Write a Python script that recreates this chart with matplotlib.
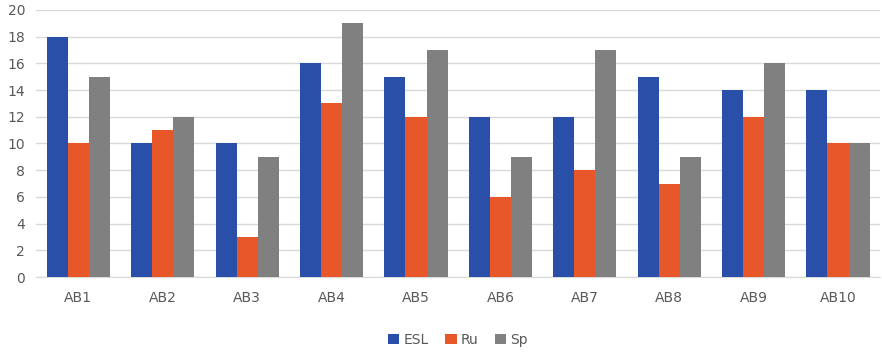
import matplotlib
matplotlib.use("Agg")
import matplotlib.pyplot as plt
import numpy as np

categories = ["AB1", "AB2", "AB3", "AB4", "AB5", "AB6", "AB7", "AB8", "AB9", "AB10"]
esl = [18, 10, 10, 16, 15, 12, 12, 15, 14, 14]
ru = [10, 11, 3, 13, 12, 6, 8, 7, 12, 10]
sp = [15, 12, 9, 19, 17, 9, 17, 9, 16, 10]
series_names = ["ESL", "Ru", "Sp"]
colors = ["#2A4FA8", "#E8572A", "#808080"]

fig = plt.figure(figsize=(8.82, 3.52), dpi=100)
ax = fig.add_axes([0.041, 0.213, 0.957, 0.759])

x = np.arange(len(categories))
w = 0.25
for i, (vals, name, c) in enumerate(zip([esl, ru, sp], series_names, colors)):
    ax.bar(x + (i - 1) * w, vals, width=w, color=c, label=name, zorder=3)

ax.set_xlim(-0.5, len(categories) - 0.5)
ax.set_ylim(0, 20)
ax.set_yticks(range(0, 21, 2))
ax.set_xticks(x)
ax.set_xticklabels(categories)
ax.yaxis.grid(True, color="#D9D9D9", linewidth=1, zorder=0)
for s in ["top", "right", "left"]:
    ax.spines[s].set_visible(False)
ax.spines["bottom"].set_color("#D9D9D9")
ax.tick_params(axis="both", length=0, labelsize=10, colors="#595959")
ax.tick_params(axis="x", pad=10)
ax.tick_params(axis="y", pad=8)

ax.legend(loc="center", bbox_to_anchor=(0.5, (1 - 340/352 - 0.213) / 0.759 + 0.0),
          bbox_transform=ax.transAxes, ncol=3, frameon=False, fontsize=10,
          handlelength=0.8, handleheight=0.8, handletextpad=0.3, columnspacing=1.2,
          labelcolor="#595959")

fig.savefig("out.png", dpi=100)
